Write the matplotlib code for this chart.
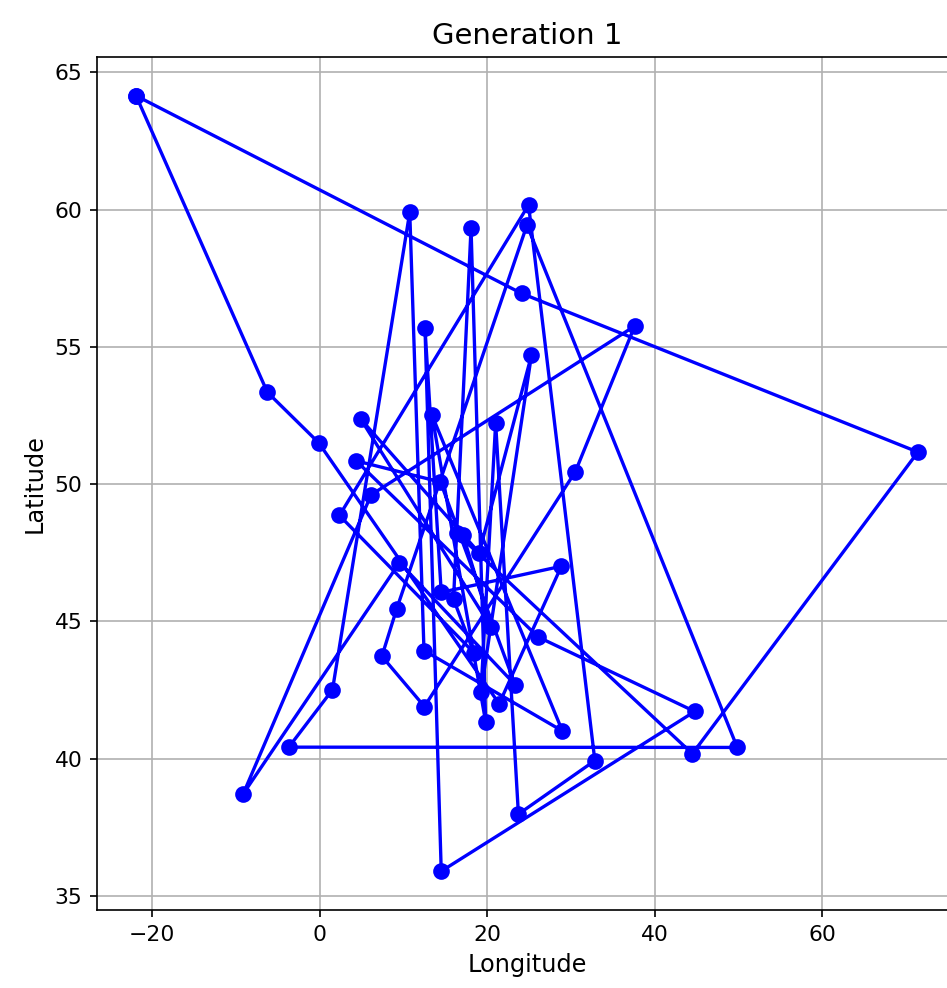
import matplotlib
matplotlib.use("Agg")
import matplotlib.pyplot as plt

# Ciudades (longitud, latitud)
ciudades = ["Reykjavik", "Dublin", "London", "Amsterdam", "Brussels", "Luxembourg",
            "Paris", "Oslo", "Stockholm", "Helsinki", "Tallinn", "Riga", "Vilnius",
            "Copenhagen", "Berlin", "Warsaw", "Prague", "Kyiv", "Vienna", "Bratislava",
            "Budapest", "Vaduz", "Chisinau", "Ljubljana", "Zagreb", "Milan", "Belgrade",
            "Bucharest", "San Marino", "Sarajevo", "Monaco", "Sofia", "Podgorica",
            "Skopje", "Rome", "Tirana", "Istanbul", "Ankara", "Athens", "Valletta",
            "Tbilisi", "Yerevan", "Baku", "Astana", "Moscow", "Madrid", "Lisbon",
            "Andorra"]
longitudes = [-21.94, -6.26, -0.13, 4.90, 4.35, 6.13, 2.35, 10.75, 18.07, 24.94,
              24.75, 24.11, 25.28, 12.57, 13.40, 21.01, 14.42, 30.52, 16.37, 17.11,
              19.04, 9.52, 28.86, 14.51, 15.98, 9.19, 20.46, 26.10, 12.45, 18.41,
              7.42, 23.32, 19.26, 21.43, 12.50, 19.82, 28.98, 32.86, 23.73, 14.51,
              44.79, 44.51, 49.87, 71.45, 37.62, -3.70, -9.14, 1.52]
latitudes = [64.15, 53.35, 51.51, 52.37, 50.85, 49.61, 48.86, 59.91, 59.33, 60.17,
             59.44, 56.95, 54.69, 55.68, 52.52, 52.23, 50.08, 50.45, 48.21, 48.15,
             47.50, 47.14, 47.01, 46.06, 45.81, 45.46, 44.79, 44.43, 43.94, 43.86,
             43.73, 42.70, 42.44, 42.00, 41.90, 41.33, 41.01, 39.93, 37.98, 35.90,
             41.72, 40.18, 40.41, 51.17, 55.76, 40.42, 38.72, 42.51]

# Ruta del mejor individuo de la generacion 1
ruta = ["Reykjavik", "Dublin", "London", "Skopje", "Chisinau", "Ljubljana",
        "Copenhagen", "Valletta", "Tbilisi", "Bucharest", "Brussels", "Prague",
        "Sofia", "Vaduz", "Lisbon", "Luxembourg", "Moscow", "Kyiv", "Rome",
        "Monaco", "Milan", "Tallinn", "Baku", "Madrid", "Andorra", "Oslo",
        "San Marino", "Istanbul", "Berlin", "Tirana", "Stockholm", "Zagreb",
        "Sarajevo", "Paris", "Helsinki", "Ankara", "Athens", "Warsaw", "Podgorica",
        "Vilnius", "Budapest", "Amsterdam", "Belgrade", "Bratislava", "Vienna",
        "Yerevan", "Astana", "Riga"]

idx = [ciudades.index(c) for c in ruta] + [ciudades.index(ruta[0])]
xs = [longitudes[i] for i in idx]
ys = [latitudes[i] for i in idx]

fig = plt.figure(figsize=(947 / 150, 988 / 150), dpi=150)
ax = fig.add_axes([97 / 947, 78 / 988, 860 / 947, 853 / 988])
ax.plot(xs, ys, "o-", color="blue", markersize=7, linewidth=1.6)
ax.set_title("Generation 1", fontsize=14)
ax.set_xlabel("Longitude", fontsize=11.5)
ax.set_ylabel("Latitude", fontsize=11.5)
ax.tick_params(labelsize=10.5)
ax.grid(True)
fig.savefig("out.png", dpi=150)
